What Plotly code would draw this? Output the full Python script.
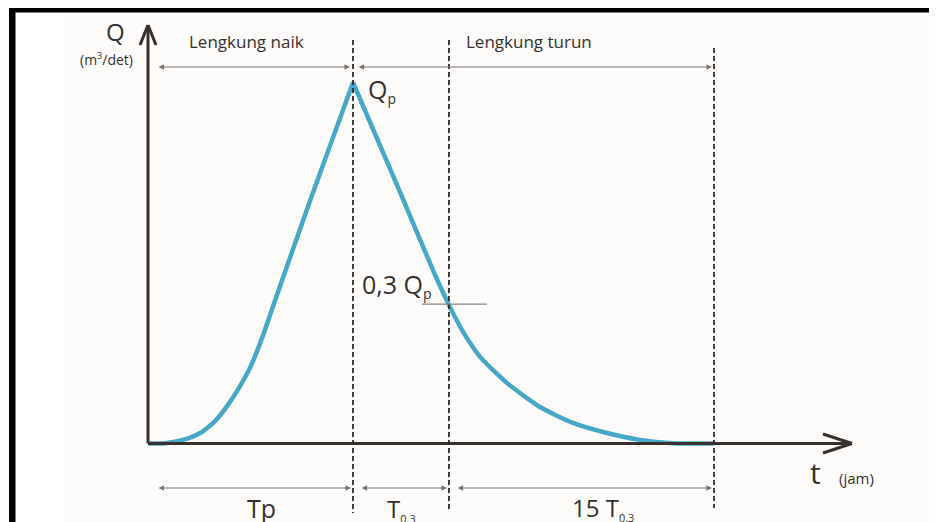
import plotly.graph_objects as go

# ---------------- data (t in units of Tp, Q in units of Qp) ----------------
T_P = 1.0        # time of peak
T_03 = 1.468     # time when discharge has fallen to ~0.3 Qp
T_END = 2.761    # end of recession (Tp + T0.3 + 15 T0.3, drawn not to scale)
Q_P = 1.0
Q_03 = 0.386

t_rise = [0.0, 0.083, 0.171, 0.254, 0.327, 0.390, 0.449, 0.502, 0.556, 0.610, 0.790, 1.0]
q_rise = [0.0, 0.001, 0.010, 0.029, 0.062, 0.107, 0.159, 0.215, 0.292, 0.380, 0.672, 1.0]

t_fall = [1.0, 1.229, 1.400, 1.468, 1.532, 1.620, 1.751, 1.912, 2.073, 2.239, 2.400, 2.561, 2.761]
q_fall = [1.0, 0.697, 0.467, 0.384, 0.314, 0.240, 0.168, 0.101, 0.057, 0.029, 0.010, 0.001, 0.0]

# ---------------- layout scale ----------------
# The page body has an 8px margin, so the figure starts at (8, 8) on screen.
OX, OY = 8, 8
FW, FH = 929, 514
X0, XS = 148.0, 205.0     # screen pixel of t=0, pixels per unit t
Y0, YS = 443.5, 361.0     # screen pixel of Q=0, pixels per unit Q


def tx(px):
    return (px - X0) / XS


def qy(py):
    return (Y0 - py) / YS


def pxp(px):
    return (px - OX) / FW


def pyp(py):
    return 1 - (py - OY) / FH


CURVE = "#46a8c6"
AXIS = "#3a302b"
TXT = "#353130"
DIM = "#7a7470"
FONT = "Open Sans"

fig = go.Figure()
fig.add_trace(go.Scatter(x=t_rise, y=q_rise, mode="lines",
                         line=dict(color=CURVE, width=4.5, shape="spline", smoothing=0.6),
                         hoverinfo="skip", showlegend=False))
fig.add_trace(go.Scatter(x=t_fall, y=q_fall, mode="lines",
                         line=dict(color=CURVE, width=4.5, shape="spline", smoothing=0.6),
                         hoverinfo="skip", showlegend=False))

shapes = []
# faint off-white panel
shapes.append(dict(type="rect", xref="paper", yref="paper", x0=pxp(65), x1=1, y0=0, y1=pyp(13),
                   fillcolor="#fefcfa", line=dict(width=0), layer="below"))
# black frame (top and left)
shapes.append(dict(type="rect", xref="paper", yref="paper", x0=pxp(9), x1=1, y0=pyp(12.5), y1=1,
                   fillcolor="black", line=dict(width=0)))
shapes.append(dict(type="rect", xref="paper", yref="paper", x0=pxp(9), x1=pxp(15.5), y0=0, y1=1,
                   fillcolor="black", line=dict(width=0)))

# axes with open arrow heads
ytip = qy(25)
xtip = tx(852)
axl = dict(color=AXIS, width=3)
shapes += [
    dict(type="line", x0=0, y0=0, x1=0, y1=ytip, line=axl),
    dict(type="line", x0=0, y0=ytip, x1=tx(140), y1=qy(45), line=axl),
    dict(type="line", x0=0, y0=ytip, x1=tx(156), y1=qy(45), line=axl),
    dict(type="line", x0=0, y0=0, x1=xtip, y1=0, line=axl),
    dict(type="line", x0=xtip, y0=0, x1=tx(823), y1=qy(434), line=axl),
    dict(type="line", x0=xtip, y0=0, x1=tx(823), y1=qy(453), line=axl),
]

# dashed verticals
dash = dict(color="#2e2a28", width=1.8, dash="5px,3px")
shapes += [
    dict(type="line", x0=T_P, x1=T_P, y0=qy(40), y1=qy(513), line=dash),
    dict(type="line", x0=T_03, x1=T_03, y0=qy(40), y1=qy(511), line=dash),
    dict(type="line", x0=T_END, x1=T_END, y0=qy(48), y1=qy(508), line=dash),
]
# 0.3 Qp tick
shapes.append(dict(type="line", x0=tx(422), x1=tx(487), y0=Q_03, y1=Q_03,
                   line=dict(color="#8a8580", width=1.2)))

annotations = []


def dim_arrow(xa, xb, y):
    annotations.append(dict(x=xb, y=y, ax=xa, ay=y, xref="x", yref="y", axref="x", ayref="y",
                            text="", showarrow=True, arrowhead=2, arrowside="end+start",
                            arrowsize=1.0, arrowwidth=1.1, arrowcolor=DIM))


ytop = qy(67)
ybot = qy(488)
dim_arrow(tx(157), T_P - 0.015, ytop)
dim_arrow(T_P + 0.02, T_END - 0.01, ytop)
dim_arrow(tx(157), T_P - 0.01, ybot)
dim_arrow(T_P + 0.035, T_03 - 0.01, ybot)
dim_arrow(T_03 + 0.035, T_END - 0.01, ybot)


def label(text, px, py, size, anchor="center"):
    annotations.append(dict(x=tx(px), y=qy(py), text=text, showarrow=False, xanchor=anchor,
                            yanchor="middle", font=dict(family=FONT, size=size, color=TXT)))


def small(s, size):
    return "<sub><span style='font-size:%dpx'>%s</span></sub>" % (size, s)


label("Q", 115, 31, 24)
label("(m<sup><span style='font-size:9px'>3</span></sup>/det)", 106, 59, 14)
label("Lengkung naik", 246, 41, 17)
label("Lengkung turun", 529, 41, 17)
label("Q" + small("p", 14), 366, 90, 25, "left")
label("0,3 Q" + small("p", 14), 360, 285, 25, "left")
label("t", 815, 472, 30)
label("(jam)", 856, 478, 15)
label("Tp", 261, 508, 25)
label("T" + small("0.3", 11), 401, 509, 24)
label("15 T" + small("0.3", 11), 603, 508, 24)

fig.update_layout(
    width=FW, height=FH, margin=dict(l=0, r=0, t=0, b=0),
    paper_bgcolor="white", plot_bgcolor="rgba(0,0,0,0)",
    xaxis=dict(range=[tx(OX), tx(OX + FW)], visible=False, fixedrange=True),
    yaxis=dict(range=[qy(OY + FH), qy(OY)], visible=False, fixedrange=True),
    shapes=shapes, annotations=annotations, showlegend=False,
)

fig.write_html("out.html")
